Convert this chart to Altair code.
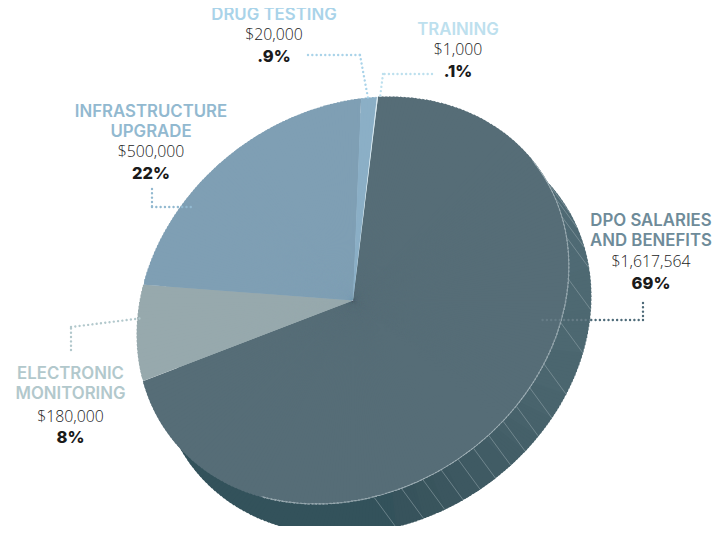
import math
import altair as alt
import pandas as pd

# ---- chart values ----
categories = ["DPO Salaries and Benefits", "Electronic Monitoring", "Infrastructure Upgrade", "Drug Testing", "Training"]
amount_labels = ["$1,617,564", "$180,000", "$500,000", "$20,000", "$1,000"]
percent_labels = ["69%", "8%", "22%", ".9%", ".1%"]
slice_degrees = [242.0, 25.3, 88.0, 4.4, 0.3]   # drawn sweep
slice_colors = ["#566d77", "#97a9ad", "#7f9fb4", "#8bafc6", "#d6e8f0"]
title_lines = [["DPO SALARIES", "AND BENEFITS"], ["ELECTRONIC", "MONITORING"],
               ["INFRASTRUCTURE", "UPGRADE"], ["DRUG TESTING"], ["TRAINING"]]
title_colors = ["#6e8b99", "#b2c8cc", "#92b9d0", "#a9d3e9", "#bde0ee"]

# side wall facets (clockwise degrees from 12 o'clock)
wall_edges = [40, 59, 63.2, 68.3, 73.6, 84.4, 96.1, 108.4, 116.3, 122.9, 128.8, 134.8,
              140.8, 146.5, 152.5, 158.7, 165.5, 173.9, 245]
wall_colors = ["#4f6a74", "#4f6a74", "#4f6a74", "#4f6a74", "#4e6972", "#4d6871", "#4b666f",
               "#49646d", "#47626b", "#456069", "#435e67", "#415c65", "#3f5a63", "#3d5861",
               "#3b565f", "#39555d", "#37535c", "#33525b"]

# ---- layout (page pixels, the page margin is subtracted) ----
M = 8
W, H = 712, 518
CX, CY = 353 - M, 300.5 - M
DX, DY = 22, 30
AXIS_A, AXIS_B, TILT = 228.0, 190.5, 54.4   # the disc is seen as a tilted ellipse
text_anchor = {0: (651, [220, 240, 261.5, 283]), 1: (70.5, [373, 393, 416, 437]),
               2: (151, [111, 131, 151, 173]), 3: (274, [14, 34, 56]), 4: (458, [29, 49.5, 71])}
leaders = [
    ("#4d6a78", [(643, 303), (643, 320), (590, 320)]),
    ("#667c86", [(590, 320), (542, 320)]),
    ("#b2c8cc", [(71, 350), (71, 327), (143, 318)]),
    ("#92b9d0", [(152, 189), (152, 207), (192, 207)]),
    ("#a9d3e9", [(308, 55), (360, 55), (368, 98)]),
    ("#bde0ee", [(432, 74), (383, 74), (380, 98)]),
]


def rim_radius(deg):
    t = math.radians(deg - TILT)
    return 1 / math.sqrt((math.cos(t) / AXIS_A) ** 2 + (math.sin(t) / AXIS_B) ** 2)


def wedges(a0, a1, col, step=1.0, lap=0.6):
    """Cut a sweep into narrow wedges that overlap the next one, so no seams show."""
    rows, a = [], a0
    while a < a1 - 1e-9:
        b = min(a + step, a1)
        rows.append({"a0": a, "a1": min(b + lap, a1), "r": rim_radius((a + b) / 2), "col": col})
        a = b
    return rows


theta_scale = alt.Scale(domain=[0, 360], range=[0, 2 * math.pi])

# ---- pie ----
pie_rows, base_rows, a = [], [], 7.0
for deg, col in zip(slice_degrees, slice_colors):
    base_rows.append({"a0": a, "a1": a + deg, "r": AXIS_B - 3, "col": col})
    pie_rows += wedges(a, a + deg, col)
    a += deg


def disc(rows):
    return alt.Chart(pd.DataFrame(rows)).mark_arc().encode(
        x=alt.value(CX), y=alt.value(CY),
        theta=alt.Theta("a0:Q", scale=theta_scale, stack=None), theta2="a1:Q",
        radius=alt.Radius("r:Q", scale=None),
        color=alt.Color("col:N", scale=None),
    )


pie = disc(pie_rows)
pie_base = disc(base_rows)

# ---- side wall ----
wall_rows = []
for a0, a1, col in zip(wall_edges[:-1], wall_edges[1:], wall_colors):
    wall_rows += wedges(a0, a1 + 0.6, col)
wall = alt.Chart(pd.DataFrame(wall_rows)).mark_arc().encode(
    x=alt.value(CX + DX), y=alt.value(CY + DY),
    theta=alt.Theta("a0:Q", scale=theta_scale, stack=None), theta2="a1:Q",
    radius=alt.Radius("r:Q", scale=None),
    color=alt.Color("col:N", scale=None),
)

# rim highlight where the top disc meets the wall
rim_df = pd.DataFrame(wedges(52, 205, "#a3b3b9"))
rim_df["r2"] = rim_df["r"] - 0.7
rim = alt.Chart(rim_df).mark_arc(color="#a3b3b9").encode(
    x=alt.value(CX), y=alt.value(CY),
    theta=alt.Theta("a0:Q", scale=theta_scale, stack=None), theta2="a1:Q",
    radius=alt.Radius("r:Q", scale=None), radius2="r2:Q",
)

# facet lines on the wall
edge_rows = []
for a in wall_edges[1:-1]:
    r = rim_radius(a)
    px = CX + r * math.sin(math.radians(a))
    py = CY - r * math.cos(math.radians(a))
    edge_rows.append({"x": px, "y": py, "x2": px + DX, "y2": py + DY})
edges = alt.Chart(pd.DataFrame(edge_rows)).mark_rule(color="#8ea1a8", strokeWidth=0.6).encode(
    x=alt.X("x:Q", scale=None), x2="x2:Q",
    y=alt.Y("y:Q", scale=None), y2="y2:Q",
)

# ---- dotted leaders ----
lead_rows = []
for col, pts in leaders:
    for (x0, y0), (x1, y1) in zip(pts[:-1], pts[1:]):
        lead_rows.append({"x": x0 - M, "y": y0 - M, "x2": x1 - M, "y2": y1 - M, "col": col})
lead = alt.Chart(pd.DataFrame(lead_rows)).mark_rule(
    strokeWidth=2.4, strokeDash=[0.01, 4.3], strokeCap="round"
).encode(
    x=alt.X("x:Q", scale=None), x2="x2:Q",
    y=alt.Y("y:Q", scale=None), y2="y2:Q",
    color=alt.Color("col:N", scale=None),
)

# ---- labels ----
title_rows, amount_rows, pct_rows = [], [], []
for i in range(len(categories)):
    ax, ys = text_anchor[i]
    n = len(title_lines[i])
    for j, t in enumerate(title_lines[i]):
        title_rows.append({"x": ax - M, "y": ys[j] - M + 0.7, "t": t, "col": title_colors[i]})
    amount_rows.append({"x": ax - M, "y": ys[n] - M + 0.7, "t": amount_labels[i]})
    pct_rows.append({"x": ax - M, "y": ys[n + 1] - M + 0.7, "t": percent_labels[i]})

titles = alt.Chart(pd.DataFrame(title_rows)).mark_text(
    font="Inter", fontWeight=600, fontSize=16.8, align="center", baseline="middle"
).encode(
    x=alt.X("x:Q", scale=None), y=alt.Y("y:Q", scale=None), text="t:N",
    color=alt.Color("col:N", scale=None),
)
amounts = alt.Chart(pd.DataFrame(amount_rows)).mark_text(
    font="Open Sans", fontWeight=300, fontSize=15.8, align="center", baseline="middle", color="#222222"
).encode(x=alt.X("x:Q", scale=None), y=alt.Y("y:Q", scale=None), text="t:N")
pcts = alt.Chart(pd.DataFrame(pct_rows)).mark_text(
    font="Inter", fontWeight=800, fontSize=16.5, align="center", baseline="middle", color="#1a1a1a"
).encode(x=alt.X("x:Q", scale=None), y=alt.Y("y:Q", scale=None), text="t:N")

chart = alt.layer(wall, edges, pie_base, pie, rim, lead, titles, amounts, pcts).properties(
    width=W, height=H, padding=0,
    autosize=alt.AutoSizeParams(type="none"),
).configure_view(stroke=None)

chart.save("out.html", embed_options={"renderer": "svg", "actions": False})
